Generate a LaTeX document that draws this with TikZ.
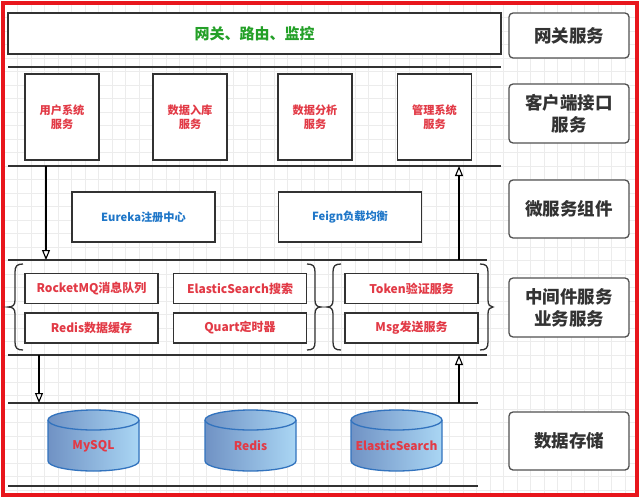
\documentclass[tikz,border=0pt]{standalone}
\usepackage{fontspec}
\setmainfont{Noto Sans CJK SC}
\usetikzlibrary{arrows.meta}
\definecolor{redborder}{RGB}{232,22,28}
\definecolor{txtred}{RGB}{226,58,70}
\definecolor{txtblue}{RGB}{30,118,200}
\definecolor{txtgreen}{RGB}{36,160,40}
\definecolor{linegray}{RGB}{50,50,50}
\definecolor{gridc}{RGB}{236,236,236}
\definecolor{cylL}{RGB}{112,146,196}
\definecolor{cylR}{RGB}{170,214,244}
\definecolor{cylB}{RGB}{50,115,190}
\tikzset{
  box/.style={draw=linegray, line width=1.4pt, fill=white, inner sep=0pt, align=center, font=\bfseries},
  redtxt/.style={text=txtred},
  bluetxt/.style={text=txtblue},
  side/.style={draw=linegray!85, line width=1.3pt, rounded corners=4pt, fill=white, minimum width=120pt, inner sep=0pt, align=center, font=\fontsize{17.5}{22}\selectfont\bfseries, text=black!80},
  sep/.style={draw=linegray, line width=1.8pt},
  flow/.style={draw=black, line width=1.2pt, -{Triangle[open, width=8pt, length=10pt, line width=1.1pt]}},
  brc/.style={draw=linegray, line width=1.3pt},
  cyltxt/.style={font=\fontsize{12}{14}\selectfont\bfseries, text=txtred}
}
\newcommand{\dbcyl}[3]{% cx, name, text
  \shade[left color=cylL, right color=cylR] (#1-45.5,-420) -- (#1-45.5,-461) arc (180:360:45.5 and 10) -- (#1+45.5,-420) arc (0:180:45.5 and 10) -- cycle;
  \draw[cylB, line width=1.3pt] (#1-45.5,-420) -- (#1-45.5,-461) arc (180:360:45.5 and 10) -- (#1+45.5,-420);
  \draw[cylB, line width=1.3pt] (#1,-420) ellipse (45.5 and 10);
  \node[cyltxt] (#2) at (#1,-446) {#3};
}
\begin{document}
\begin{tikzpicture}[x=1pt,y=1pt]
\useasboundingbox (0,0) rectangle (640,-498);
\fill[white] (0,0) rectangle (640,-498);
% grid
\begin{scope}
\clip (4,-4) rectangle (636,-494);
\foreach \i in {0,...,47} {
  \draw[gridc, line width=0.5pt] (4+\i*13.5,-4) -- (4+\i*13.5,-494);
}
\foreach \j in {0,...,37} {
  \draw[gridc, line width=0.5pt] (4,-4-\j*13.5) -- (636,-4-\j*13.5);
}
\end{scope}
% red frame
\draw[redborder, line width=4pt] (2.5,-2.5) rectangle (636.5,-494.5);

% separators
\draw[sep] (8,-67) -- (501,-67);
\draw[sep] (8,-166) -- (501,-166);
\draw[sep] (8,-260) -- (487,-260);
\draw[sep] (8,-355) -- (487,-355);
\draw[sep] (8,-403) -- (478,-403);
\draw[sep] (8,-486) -- (478,-486);

% gateway
\node[box, minimum width=493pt, minimum height=41pt, text=txtgreen, font=\fontsize{15}{18}\selectfont\bfseries] (gw) at (254.5,-33.5) {网关、路由、监控};

% client services
\tikzset{cbox/.style={box, redtxt, minimum width=74pt, minimum height=86pt, font=\fontsize{11.2}{14.5}\selectfont\bfseries}}
\node[cbox] (c1) at (62,-117) {用户系统\\服务};
\node[cbox] (c2) at (190,-117) {数据入库\\服务};
\node[cbox] (c3) at (315,-117) {数据分析\\服务};
\node[cbox] (c4) at (434.5,-117) {管理系统\\服务};

% microservice components
\tikzset{mbox/.style={box, bluetxt, minimum width=143pt, minimum height=50pt, font=\fontsize{11.2}{14}\selectfont\bfseries}}
\node[mbox] (m1) at (143.5,-217) {Eureka注册中心};
\node[mbox] (m2) at (350,-217) {Feign负载均衡};

% middleware
\tikzset{wbox/.style={box, redtxt, minimum width=133pt, minimum height=30pt, font=\fontsize{12}{14}\selectfont\bfseries}}
\node[wbox] (w1) at (91.5,-288.5) {RocketMQ消息队列};
\node[wbox] (w2) at (240,-288.5) {ElasticSearch搜索};
\node[wbox] (w3) at (91.5,-328) {Redis数据缓存};
\node[wbox] (w4) at (240,-328) {Quart定时器};
\node[wbox] (w5) at (411.5,-288.5) {Token验证服务};
\node[wbox] (w6) at (411.5,-328) {Msg发送服务};

% braces
\draw[brc] (23,-264) .. controls (17,-264) and (15,-266) .. (15,-272) -- (15,-300) .. controls (15,-305) and (13,-307) .. (8,-307) .. controls (13,-307) and (15,-309) .. (15,-314) -- (15,-342) .. controls (15,-348) and (17,-350) .. (23,-350);
\draw[brc] (307,-264) .. controls (313,-264) and (315,-266) .. (315,-272) -- (315,-300) .. controls (315,-305) and (317,-307) .. (321,-307) .. controls (317,-307) and (315,-309) .. (315,-314) -- (315,-342) .. controls (315,-348) and (313,-350) .. (307,-350);
\draw[brc] (341,-264) .. controls (335,-264) and (333,-266) .. (333,-272) -- (333,-300) .. controls (333,-305) and (331,-307) .. (327,-307) .. controls (331,-307) and (333,-309) .. (333,-314) -- (333,-342) .. controls (333,-348) and (335,-350) .. (341,-350);
\draw[brc] (480,-264) .. controls (486,-264) and (488,-266) .. (488,-272) -- (488,-300) .. controls (488,-305) and (490,-307) .. (493,-307) .. controls (490,-307) and (488,-309) .. (488,-314) -- (488,-342) .. controls (488,-348) and (486,-350) .. (480,-350);

% databases
\dbcyl{93.5}{db1}{MySQL}
\dbcyl{250.5}{db2}{Redis}
\dbcyl{396.5}{db3}{ElasticSearch}

% arrows
\coordinate (a1s) at (46,-166);
\coordinate (a1e) at (46,-260);
\coordinate (a2s) at (459,-260);
\coordinate (a2e) at (459,-166);
\coordinate (a3s) at (39,-355);
\coordinate (a3e) at (39,-403);
\coordinate (a4s) at (459,-403);
\coordinate (a4e) at (459,-355);
\draw[flow] (a1s) -- (a1e);
\draw[flow] (a2s) -- (a2e);
\draw[flow] (a3s) -- (a3e);
\draw[flow] (a4s) -- (a4e);

% side labels
\node[side, minimum height=45pt] (s1) at (569,-35.5) {网关服务};
\node[side, minimum height=59pt] (s2) at (569,-113.5) {客户端接口\\服务};
\node[side, minimum height=58pt] (s3) at (569,-209) {微服务组件};
\node[side, minimum height=59pt] (s4) at (569,-307.5) {中间件服务\\业务服务};
\node[side, minimum height=58pt] (s5) at (569,-441) {数据存储};
\end{tikzpicture}
\end{document}
